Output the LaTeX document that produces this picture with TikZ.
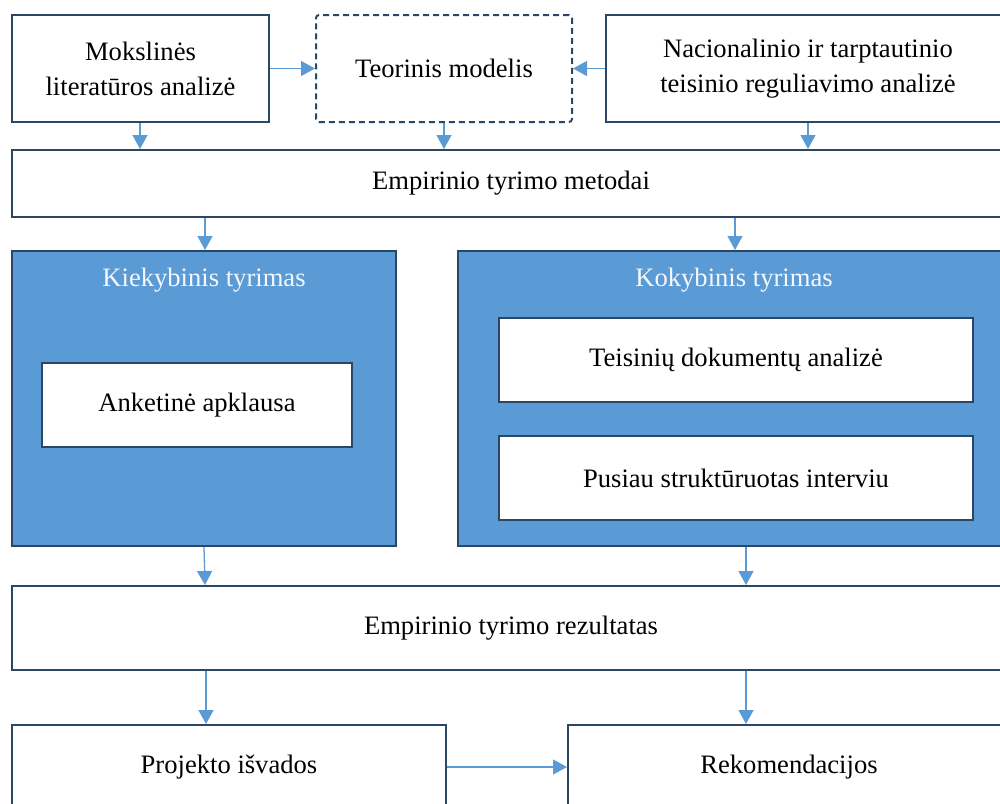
\documentclass[tikz,border=0pt]{standalone}
\usepackage{fontspec}
\setmainfont{Liberation Serif}
\usetikzlibrary{arrows.meta}
\definecolor{edge}{HTML}{2A4765}
\definecolor{arr}{HTML}{5B9BD5}
\definecolor{fillb}{HTML}{5B9BD5}
\definecolor{titl}{HTML}{F4F7FB}
\tikzset{
  box/.style={draw=edge, line width=2pt, fill=white, inner sep=0pt, align=center,
    font=\fontsize{26.6}{35}\selectfont, text=black},
  dbox/.style={box, dashed, dash pattern=on 6pt off 4pt, rounded corners=3pt},
  group/.style={draw=edge, line width=2pt, fill=fillb, inner sep=0pt},
  gtitle/.style={inner sep=0pt, text=titl, font=\fontsize{26.6}{35}\selectfont},
  conn/.style={draw=arr, line width=1.3pt, -{Triangle[length=14pt,width=15pt]}}
}
\begin{document}
\begin{tikzpicture}[x=1pt,y=-1pt]
\useasboundingbox (0,0) rectangle (1000,803);
\clip (0,0) rectangle (1000,803);
% top row
\node[box, minimum width=257pt, minimum height=107pt] (A) at (140.5,68.5) {Mokslinės\\literatūros analizė};
\node[dbox, minimum width=256pt, minimum height=107pt] (T) at (444,68.5) {Teorinis modelis};
\node[box, minimum width=404pt, minimum height=107pt] (N) at (808,68.5) {Nacionalinio ir tarptautinio\\teisinio reguliavimo analizė};
% methods
\node[box, minimum width=998pt, minimum height=67pt] (M) at (511,183.5) {Empirinio tyrimo metodai};
% groups
\node[group, minimum width=384pt, minimum height=295pt] (K) at (204,398.5) {};
\node[gtitle] (Kt) at (204,280.5) {Kiekybinis tyrimas};
\node[box, minimum width=310pt, minimum height=84pt] (KA) at (197,405) {Anketinė apklausa};
\node[group, minimum width=552pt, minimum height=295pt] (Q) at (734,398.5) {};
\node[gtitle] (Qt) at (734,280.5) {Kokybinis tyrimas};
\node[box, minimum width=474pt, minimum height=84pt] (Q1) at (736,360) {Teisinių dokumentų analizė};
\node[box, minimum width=474pt, minimum height=84pt] (Q2) at (736,478) {Pusiau struktūruotas interviu};
% results
\node[box, minimum width=998pt, minimum height=84pt] (R) at (511,628) {Empirinio tyrimo rezultatas};
\node[box, minimum width=434pt, minimum height=84pt] (P) at (229,767) {Projekto išvados};
\node[box, minimum width=442pt, minimum height=84pt] (Rk) at (789,767) {Rekomendacijos};
% connectors
\draw[conn] (A.east) -- (T.west);
\draw[conn] (N.west) -- (T.east);
\draw[conn] ([xshift=-0.5pt]A.south) -- ([xshift=-0.5pt]A.south |- M.north);
\draw[conn] (T.south) -- (T.south |- M.north);
\draw[conn] (N.south) -- (N.south |- M.north);
\draw[conn] ([xshift=1pt]K.north |- M.south) -- ([xshift=1pt]K.north);
\draw[conn] ([xshift=1pt]Q.north |- M.south) -- ([xshift=1pt]Q.north);
\draw[conn] (K.south) -- ([xshift=1pt]K.south |- R.north);
\draw[conn] ([xshift=12pt]Q.south) -- ([xshift=12pt]Q.south |- R.north);
\draw[conn] ([xshift=-305pt]R.south) -- ([xshift=-305pt]R.south |- P.north);
\draw[conn] ([xshift=235pt]R.south) -- ([xshift=235pt]R.south |- Rk.north);
\draw[conn] (P.east) -- (Rk.west);
\end{tikzpicture}
\end{document}
